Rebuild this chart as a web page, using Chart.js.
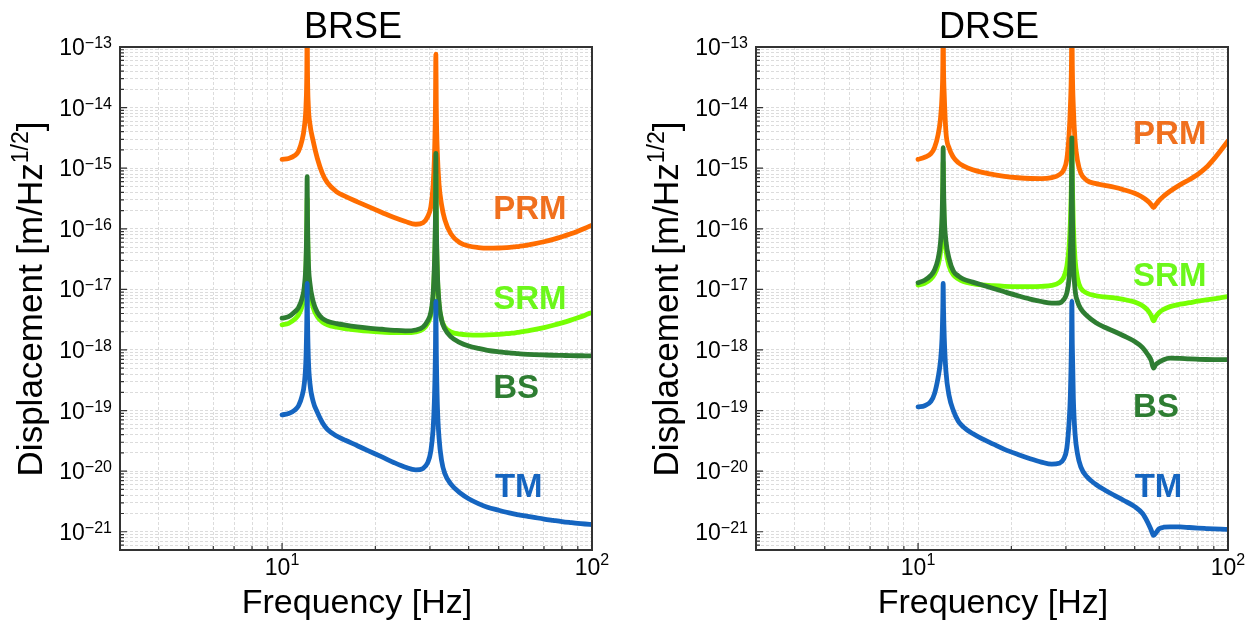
<!DOCTYPE html>
<html>
<head>
<meta charset="utf-8">
<script src="https://cdn.jsdelivr.net/npm/chart.js@4.4.1/dist/chart.umd.min.js"></script>
<style>
  html, body { margin: 0; padding: 0; background: #fff; }
  #wrap { position: relative; width: 1257px; height: 622px; }
  .panel { position: absolute; top: 0; }
</style>
</head>
<body>
<div id="wrap">
  <canvas id="brse" class="panel" width="628" height="622" style="left:0"></canvas>
  <canvas id="drse" class="panel" width="629" height="622" style="left:628px"></canvas>
</div>
<script>
// Frequencies [Hz] shared by all curves (denser around the 12 Hz and 31 Hz resonances)
const freq = [10, 10.5, 11, 11.3, 11.6, 11.8, 11.95, 12.02, 12.05, 12.08,
  12.15, 12.3, 12.6, 13, 13.5, 14, 15, 16, 17.5, 19,
  21, 23, 25, 27, 28.5, 29.5, 30.2, 30.7, 31, 31.25,
  31.35, 31.45, 31.7, 32.1, 32.7, 33.5, 35, 37.5, 40, 43,
  46, 50, 53, 55, 56.5, 57.5, 58.5, 60, 62, 65,
  70, 75, 80, 85, 90, 95, 100];

// Displacement, in decades: log10(m/Hz^1/2)
const brsePRM = [-14.855, -14.84, -14.79, -14.72, -14.54, -14.32, -13.95, -13.4, -12.5, -13.4,
  -13.95, -14.27, -14.55, -14.84, -15.09, -15.24, -15.39, -15.465, -15.555, -15.635,
  -15.73, -15.815, -15.88, -15.925, -15.9, -15.8, -15.64, -15.3, -14.85, -14.0,
  -13.12, -14.0, -14.75, -15.27, -15.6, -15.85, -16.08, -16.23, -16.285, -16.31,
  -16.32, -16.317, -16.31, -16.304, -16.297, -16.293, -16.288, -16.28, -16.269, -16.25,
  -16.214, -16.174, -16.131, -16.086, -16.039, -15.99, -15.94];
const brseSRM = [-17.585, -17.56, -17.49, -17.42, -17.28, -17.08, -16.65, -16.0, -15.5, -16.0,
  -16.65, -17.03, -17.3, -17.45, -17.54, -17.585, -17.625, -17.648, -17.672, -17.69,
  -17.705, -17.715, -17.715, -17.7, -17.655, -17.56, -17.42, -17.15, -16.7, -15.9,
  -15.1, -15.9, -16.75, -17.25, -17.5, -17.62, -17.7, -17.74, -17.752, -17.755,
  -17.752, -17.743, -17.732, -17.723, -17.716, -17.71, -17.705, -17.696, -17.684, -17.665,
  -17.63, -17.592, -17.552, -17.511, -17.468, -17.425, -17.38];
const brseBS = [-17.475, -17.45, -17.37, -17.3, -17.15, -16.95, -16.5, -15.8, -15.14, -15.8,
  -16.5, -16.9, -17.2, -17.38, -17.48, -17.525, -17.565, -17.59, -17.618, -17.638,
  -17.658, -17.675, -17.685, -17.67, -17.62, -17.52, -17.38, -17.1, -16.62, -15.8,
  -14.756, -15.8, -16.7, -17.22, -17.5, -17.65, -17.78, -17.88, -17.935, -17.975,
  -18.005, -18.03, -18.044, -18.052, -18.057, -18.06, -18.063, -18.067, -18.071, -18.076,
  -18.082, -18.087, -18.09, -18.093, -18.095, -18.096, -18.097];
const brseTM = [-19.07, -19.05, -18.99, -18.92, -18.76, -18.55, -18.1, -17.45, -16.9, -17.45,
  -18.1, -18.55, -18.85, -19.03, -19.2, -19.31, -19.42, -19.49, -19.58, -19.665,
  -19.765, -19.86, -19.935, -19.98, -19.955, -19.86, -19.67, -19.32, -18.85, -18.0,
  -17.2, -18.0, -18.9, -19.45, -19.82, -20.04, -20.21, -20.36, -20.455, -20.535,
  -20.595, -20.645, -20.678, -20.697, -20.709, -20.717, -20.724, -20.734, -20.746, -20.763,
  -20.79, -20.812, -20.832, -20.848, -20.862, -20.872, -20.88];

const drsePRM = [-14.855, -14.82, -14.76, -14.66, -14.45, -14.2, -13.8, -13.3, -12.5, -13.3,
  -13.8, -14.4, -14.67, -14.82, -14.91, -14.96, -15.025, -15.065, -15.105, -15.135,
  -15.158, -15.17, -15.172, -15.155, -15.11, -15.03, -14.85, -14.45, -14.0, -13.3,
  -12.5, -13.3, -14.0, -14.54, -14.88, -15.08, -15.2, -15.255, -15.283, -15.315,
  -15.355, -15.415, -15.48, -15.54, -15.6, -15.65, -15.6, -15.53, -15.462, -15.38,
  -15.275, -15.19, -15.1, -14.99, -14.85, -14.7, -14.55];
const drseSRM = [-16.93, -16.9, -16.83, -16.75, -16.6, -16.4, -16.0, -15.4, -14.9, -15.4,
  -16.0, -16.35, -16.62, -16.76, -16.83, -16.87, -16.905, -16.925, -16.94, -16.95,
  -16.955, -16.955, -16.95, -16.935, -16.89, -16.8, -16.62, -16.3, -15.9, -15.2,
  -14.7, -15.2, -15.95, -16.5, -16.82, -16.98, -17.06, -17.105, -17.125, -17.14,
  -17.165, -17.21, -17.27, -17.34, -17.43, -17.52, -17.45, -17.38, -17.33, -17.285,
  -17.245, -17.22, -17.195, -17.175, -17.155, -17.137, -17.12];
const drseBS = [-16.89, -16.85, -16.77, -16.68, -16.5, -16.25, -15.8, -15.2, -14.66, -15.2,
  -15.8, -16.2, -16.5, -16.7, -16.78, -16.83, -16.88, -16.925, -16.985, -17.04,
  -17.105, -17.16, -17.2, -17.228, -17.225, -17.17, -17.06, -16.82, -16.4, -15.5,
  -14.5, -15.5, -16.5, -17.0, -17.2, -17.32, -17.43, -17.55, -17.625, -17.695,
  -17.765, -17.86, -17.96, -18.07, -18.17, -18.3, -18.24, -18.2, -18.16, -18.135,
  -18.14, -18.148, -18.153, -18.157, -18.159, -18.16, -18.16];
const drseTM = [-18.94, -18.92, -18.85, -18.72, -18.46, -18.2, -17.8, -17.3, -16.9, -17.3,
  -17.8, -18.35, -18.76, -19.0, -19.18, -19.27, -19.38, -19.46, -19.555, -19.64,
  -19.725, -19.795, -19.85, -19.885, -19.87, -19.8, -19.62, -19.2, -18.75, -17.9,
  -17.2, -17.9, -18.8, -19.38, -19.72, -19.93, -20.09, -20.22, -20.31, -20.4,
  -20.48, -20.585, -20.7, -20.84, -20.97, -21.06, -21.02, -20.95, -20.925, -20.92,
  -20.92, -20.93, -20.94, -20.947, -20.953, -20.957, -20.96];

// Axis decades that carry a "10^n" label
const xLabelExps = [1, 2];
const yLabelExps = [-21, -20, -19, -18, -17, -16, -15, -14, -13];

const FONT = '"Liberation Sans", Arial, Helvetica, sans-serif';
const colors = { PRM: '#ff6d00', SRM: '#76ff03', BS: '#2e7d32', TM: '#1565c0' };
const textColors = { PRM: '#f0701e', SRM: '#6cf71a', BS: '#2e7d32', TM: '#1565c0' };

// curve name labels: [name, frequency, displacement] where the text sits
const brseNames = [['PRM', 48, 2.3e-16], ['SRM', 48, 7.4e-18], ['BS', 48, 2.5e-19], ['TM', 48.6, 6e-21]];
const drseNames = [['PRM', 49.4, 4e-15], ['SRM', 49.4, 1.8e-17], ['BS', 49.4, 1.23e-19], ['TM', 50, 6e-21]];

// grid lines at every 1..9 x decade
const xGrid = [3, 4, 5, 6, 7, 8, 9, 10, 20, 30, 40, 50, 60, 70, 80, 90, 100];
const yGrid = [];
for (let e = -22; e <= -13; e++) {
  for (let m = 1; m <= 9; m++) {
    const v = m * Math.pow(10, e);
    if (v >= 4.99e-22 && v <= 1.0001e-13) yGrid.push(v);
  }
}

function isDecade(v) {
  const l = Math.log10(v);
  return Math.abs(l - Math.round(l)) < 1e-6;
}

function drawPower(ctx, exp, x, yBase, baseSize, supSize, supRise, align) {
  const sup = exp < 0 ? '\u2212' + Math.abs(exp) : String(exp);
  ctx.font = baseSize + 'px ' + FONT;
  const wb = ctx.measureText('10').width;
  ctx.font = supSize + 'px ' + FONT;
  const ws = ctx.measureText(sup).width;
  const left = align === 'right' ? x - wb - ws : x - (wb + ws) / 2;
  ctx.font = baseSize + 'px ' + FONT;
  ctx.fillText('10', left, yBase);
  ctx.font = supSize + 'px ' + FONT;
  ctx.fillText(sup, left + wb, yBase - supRise);
}

const decor = {
  id: 'decor',
  afterDraw(chart, args, opts) {
    const { ctx, chartArea: a } = chart;
    const x = chart.scales.x, y = chart.scales.y;
    ctx.save();

    // frame
    ctx.strokeStyle = '#333';
    ctx.lineWidth = 2;
    ctx.strokeRect(a.left, a.top, a.right - a.left, a.bottom - a.top);

    // inward tick marks on left and bottom
    ctx.lineWidth = 1.2;
    ctx.beginPath();
    xGrid.forEach(v => {
      const px = x.getPixelForValue(v);
      const len = isDecade(v) ? 7 : 4;
      ctx.moveTo(px, a.bottom);
      ctx.lineTo(px, a.bottom - len);
    });
    yGrid.forEach(v => {
      const py = y.getPixelForValue(v);
      const len = isDecade(v) ? 7 : 4;
      ctx.moveTo(a.left, py);
      ctx.lineTo(a.left + len, py);
    });
    ctx.stroke();

    // tick labels
    ctx.fillStyle = '#000';
    ctx.textAlign = 'left';
    ctx.textBaseline = 'alphabetic';
    yLabelExps.forEach(e => {
      const py = y.getPixelForValue(Math.pow(10, e));
      drawPower(ctx, e, a.left - 8, py + 8, 23, 16, 7, 'right');
    });
    xLabelExps.forEach(e => {
      const px = x.getPixelForValue(Math.pow(10, e));
      drawPower(ctx, e, px, a.bottom + 25, 23, 16, 10, 'center');
    });

    const cx = (a.left + a.right) / 2;

    // panel title
    ctx.textAlign = 'center';
    ctx.font = '36px ' + FONT;
    ctx.fillText(opts.title, cx - 3, 38);

    // x axis title
    ctx.font = '34px ' + FONT;
    ctx.fillText('Frequency [Hz]', cx + 1, 613);

    // y axis title with superscript
    const p1 = 'Displacement [m/Hz', p2 = '1/2', p3 = ']';
    ctx.font = '35px ' + FONT;
    const w1 = ctx.measureText(p1).width, w3 = ctx.measureText(p3).width;
    ctx.font = '23px ' + FONT;
    const w2 = ctx.measureText(p2).width;
    const total = w1 + w2 + w3;
    ctx.save();
    ctx.translate(a.left - 78.5, 299);
    ctx.rotate(-Math.PI / 2);
    ctx.textAlign = 'left';
    ctx.font = '35px ' + FONT;
    ctx.fillText(p1, -total / 2, 0);
    ctx.font = '23px ' + FONT;
    ctx.fillText(p2, -total / 2 + w1, -14);
    ctx.font = '35px ' + FONT;
    ctx.fillText(p3, -total / 2 + w1 + w2, 0);
    ctx.restore();

    // curve names
    ctx.textAlign = 'left';
    ctx.font = 'bold 33px ' + FONT;
    opts.names.forEach(([name, f, v]) => {
      ctx.fillStyle = textColors[name];
      ctx.fillText(name, x.getPixelForValue(f), y.getPixelForValue(v) + 12);
    });

    ctx.restore();
  }
};

function series(name, logv, order) {
  return {
    label: name,
    data: freq.map((f, i) => ({ x: f, y: Math.pow(10, logv[i]) })),
    borderColor: colors[name],
    borderWidth: 4.8,
    pointRadius: 0,
    fill: false,
    cubicInterpolationMode: 'monotone',
    borderCapStyle: 'round',
    borderJoinStyle: 'round',
    clip: 0,
    order: order
  };
}

function makeChart(id, title, names, curves, padding) {
  const ctx = document.getElementById(id).getContext('2d');
  return new Chart(ctx, {
    type: 'line',
    data: {
      datasets: [
        series('PRM', curves.PRM, 3),
        series('SRM', curves.SRM, 2),
        series('BS', curves.BS, 1),
        series('TM', curves.TM, 0)
      ]
    },
    options: {
      responsive: false,
      animation: false,
      layout: { padding: padding },
      plugins: {
        legend: { display: false },
        tooltip: { enabled: false },
        decor: { title: title, names: names }
      },
      scales: {
        x: {
          type: 'logarithmic',
          min: 3,
          max: 100,
          afterBuildTicks: (scale) => { scale.ticks = xGrid.map(v => ({ value: v })); },
          ticks: { display: false },
          grid: { color: '#dcdcdc', lineWidth: 1, drawTicks: false, tickLength: 0 },
          border: { display: false, dash: [3, 2] }
        },
        y: {
          type: 'logarithmic',
          min: 5e-22,
          max: 1e-13,
          afterBuildTicks: (scale) => { scale.ticks = yGrid.map(v => ({ value: v })); },
          ticks: { display: false },
          grid: { color: '#dcdcdc', lineWidth: 1, drawTicks: false, tickLength: 0 },
          border: { display: false, dash: [3, 2] }
        }
      }
    },
    plugins: [decor]
  });
}

makeChart('brse', 'BRSE', brseNames,
  { PRM: brsePRM, SRM: brseSRM, BS: brseBS, TM: brseTM },
  { left: 120, right: 36, top: 47, bottom: 72 });
makeChart('drse', 'DRSE', drseNames,
  { PRM: drsePRM, SRM: drseSRM, BS: drseBS, TM: drseTM },
  { left: 128, right: 29, top: 47, bottom: 72 });
</script>
</body>
</html>
